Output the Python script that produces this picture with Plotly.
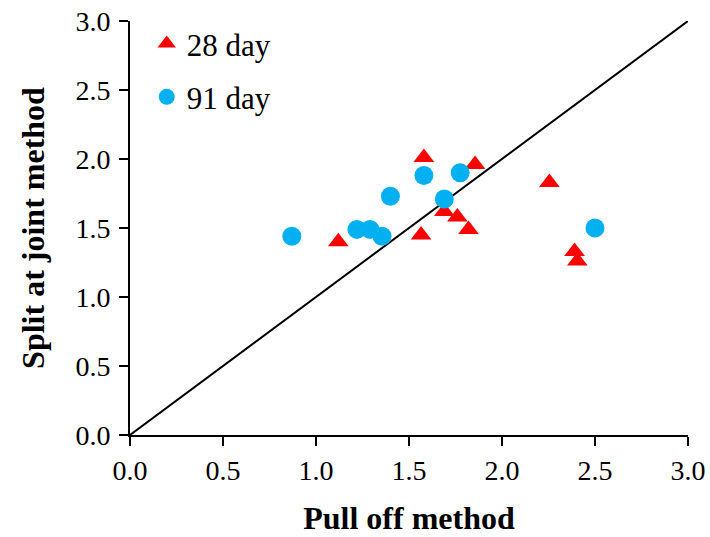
import plotly.graph_objects as go

# Bond strength comparison: pull-off test vs. split-at-joint test
pull_off_28 = [1.12, 1.565, 1.58, 1.69, 1.76, 1.82, 1.855, 2.255, 2.39, 2.405]
split_28 = [1.40, 1.45, 2.01, 1.62, 1.58, 1.49, 1.96, 1.83, 1.33, 1.26]

pull_off_91 = [0.87, 1.22, 1.29, 1.355, 1.40, 1.58, 1.69, 1.775, 2.50]
split_91 = [1.44, 1.49, 1.49, 1.44, 1.73, 1.88, 1.71, 1.90, 1.50]

equality_line = [0.0, 3.0]
tick_vals = [0.0, 0.5, 1.0, 1.5, 2.0, 2.5, 3.0]

FONT = "Liberation Serif, Times New Roman, serif"

fig = go.Figure()

fig.add_trace(go.Scatter(
    x=equality_line, y=equality_line, mode="lines",
    line=dict(color="black", width=2), showlegend=False, hoverinfo="skip",
))

fig.add_trace(go.Scatter(
    x=pull_off_28, y=split_28, mode="markers", name="28 day",
    marker=dict(symbol="triangle-up", size=18, color="#FF0000"),
    legendgroup="a",
))

fig.add_trace(go.Scatter(
    x=pull_off_91, y=split_91, mode="markers", name="91 day",
    marker=dict(symbol="circle", size=19, color="#00B0F0"),
    legendgroup="b",
))

axis_common = dict(
    range=[0, 3.0], tickvals=tick_vals, tickformat=".1f",
    showgrid=False, zeroline=False, automargin=False,
    showline=True, linecolor="black", linewidth=2,
    ticks="outside", ticklen=9, tickwidth=2, tickcolor="black",
    tickfont=dict(family=FONT, size=28, color="black"),
)

fig.update_layout(
    width=710, height=537,
    margin=dict(l=130, r=22, t=21, b=102),
    paper_bgcolor="white", plot_bgcolor="white",
    xaxis=dict(
        **axis_common,
        title=dict(text="<b>Pull off method</b>", standoff=22,
                   font=dict(family=FONT, size=32, color="black")),
    ),
    yaxis=dict(
        **axis_common,
        ticklabelstandoff=3,
        title=dict(text="<b>Split at joint method</b>", standoff=21,
                   font=dict(family=FONT, size=32, color="black")),
    ),
    legend=dict(
        x=0.03, y=1.01, xanchor="left", yanchor="top",
        bgcolor="rgba(0,0,0,0)",
        font=dict(family=FONT, size=31, color="black"),
        traceorder="grouped", tracegroupgap=10,
    ),
    showlegend=True,
)

fig.write_html("out.html")
